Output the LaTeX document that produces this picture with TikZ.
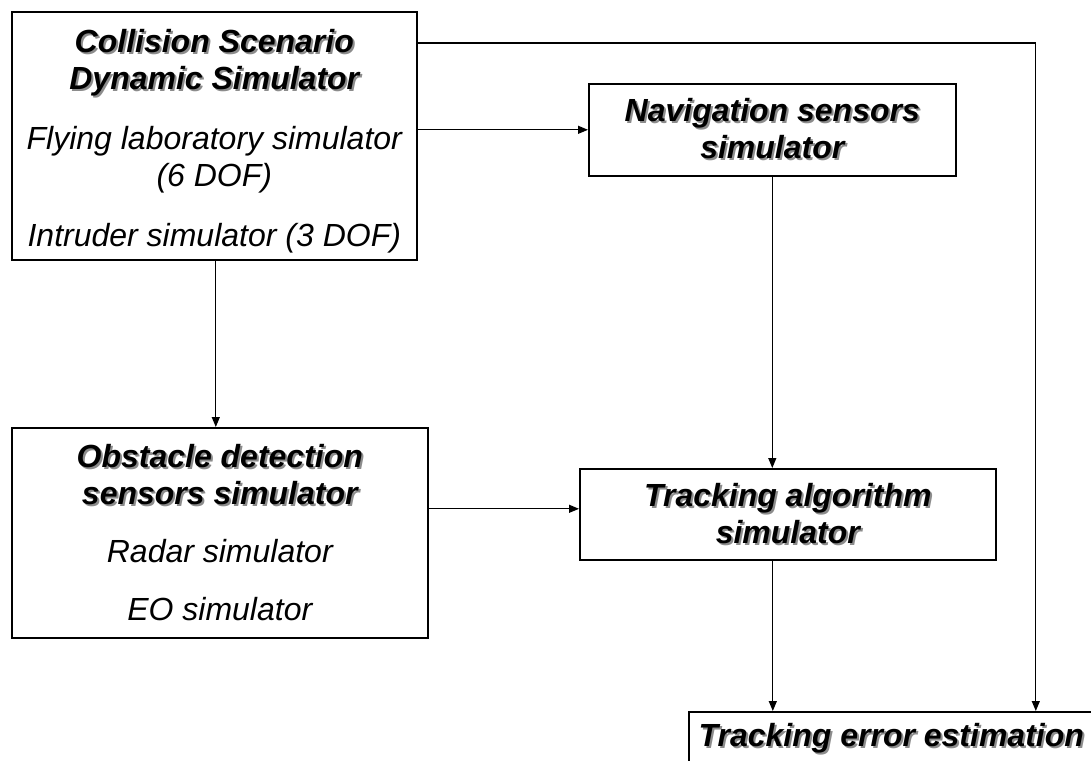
\documentclass[tikz,border=0pt]{standalone}
\usepackage{fontspec}
\setmainfont{Liberation Sans}
\usetikzlibrary{arrows.meta}

\newcommand{\shtitle}[1]{\leavevmode\rlap{\hspace{2pt}\raisebox{-2pt}{\color{black!45}\bfseries #1}}{\bfseries #1}}

\tikzset{
	blk/.style={draw, line width=1.6pt, inner sep=0pt, align=center, anchor=north west,
		font=\fontsize{32}{37}\selectfont\itshape},
	arr/.style={-{Triangle[length=10pt,width=8pt]}, line width=1.2pt}
}

\begin{document}
\begin{tikzpicture}[x=1pt,y=-1pt]
	\def\gap{21pt}   % space between entries

\useasboundingbox (0,0) rectangle (1091,760);
\clip (0,0) rectangle (1091,760);

% scenario (0)
\node[blk, minimum width=405pt, minimum height=248pt] (csds) at (11,11)
{\rule{0pt}{35pt}\shtitle{Collision Scenario}\\\shtitle{Dynamic Simulator}\\[23pt]
Flying laboratory simulator\\(6 DOF)\\[23pt]Intruder simulator (3 DOF)};

% navigation (1)
\node[blk, minimum width=367pt, minimum height=92pt] (nav) at (588,83)
{\shtitle{Navigation sensors}\\\shtitle{simulator}};

% obstacle (2)
\node[blk, minimum width=416pt, minimum height=210pt] (obs) at (11,427)
{\shtitle{Obstacle detection}\\\shtitle{sensors simulator}\\[\gap]
Radar simulator\\[\gap]EO simulator};

% tracking (3)
\node[blk, minimum width=416pt, minimum height=91pt] (trk) at (579,468)
{\shtitle{Tracking algorithm}\\\shtitle{simulator}};

% error (4)
\node[blk, minimum width=405pt, text height=35pt, text depth=40pt] (err) at (688,711)
{\shtitle{Tracking error estimation}};

\draw[arr] ([yshift=-32pt]csds.north east) -| ([xshift=144.5pt]err.north);
\draw[arr] (nav.west -| csds.east) -- (nav.west);
\draw[arr] ([xshift=1.5pt]csds.south) -- ([xshift=1.5pt]csds.south |- obs.north);
\draw[arr] (nav.south) -- (nav.south |- trk.north);
\draw[arr] ([yshift=5.5pt]trk.west -| obs.east) -- ([yshift=5.5pt]trk.west);
\draw[arr] ([xshift=-15pt]trk.south) -- ([xshift=-15pt]trk.south |- err.north);

\end{tikzpicture}
\end{document}
